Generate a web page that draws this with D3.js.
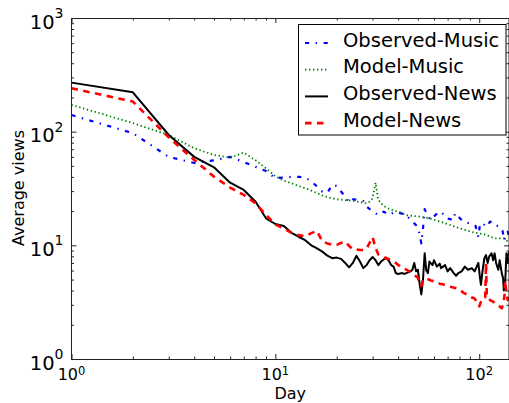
<!DOCTYPE html>
<html>
<head>
<meta charset="utf-8">
<script src="https://cdnjs.cloudflare.com/ajax/libs/d3/7.8.5/d3.min.js"></script>
<style>
  body { margin: 0; background: #fff; }
  text { font-family: "DejaVu Sans", sans-serif; fill: #000; }
</style>
</head>
<body>
<script>
// values (day -> average views)
const musicObsDay = [1,2,3,4,5,6,7,8,9,10,11,12,13,14,15,16,17,18,19,20,21,22,23,24,26,27,28,30,32,34,36,39,41,44,46,48,50,51,52,53,54,56,58,61,63,65,69,72,75,76,79,82,87,92,96,99,101,104,109,113,119,123,126,130,133,135,138,140]
const musicObs = [140,97,60,53,56,60,54,49,45,39,39.5,40,40,39.7,36.5,33,29.7,29,34,33.3,29.7,27,23.8,25.4,25.1,24.5,22,19.8,18.5,19.8,18.5,19.8,19.2,18.5,16.7,15.6,14.5,12.5,10.4,14,20.8,18,16.7,18.5,19.4,19.8,17.3,17,16.7,19.2,17.9,16.7,15.8,15.6,14.8,11.9,15.5,15.6,14.5,16.2,15.8,14.8,14.6,13.5,11.1,12.5,13.2,12]

const musicModelDay = [1,2,3,4,5,6,7,8,9,10,11,12,13,14,15,17,18,20,22,24,26,28,29,30,31,32,34,36,38,41,44,47,51,57,64,72,80,85,95,106,119,133,138,140]
const musicModel = [172,119,93.5,71.5,62.4,59,65.4,56,47.6,40.5,37.1,35.2,33.3,31.8,30.3,27.5,26.6,25.4,25,24.7,24,23.4,24.2,26,35.6,25.1,22.2,21,20.2,19.5,18.4,18.2,17.9,17.3,16.2,15.1,14.1,13.7,12.9,12.5,11.5,11.5,10.8,11.2]

const newsObsDay = [1,2,3,4,5,6,7,8,9,10,11,12,13,14,15,16,17,18,19,20,21,22,23,24,25,26,27,28,29,30,31,32,33,34,35,36,37,38,39,40,42,43,46,47,48,49,50,51,52,53,54,55,56,57,59,60,62,64,65,68,70,72,75,77,79,82,85,88,92,95,99,101,102,104,106,108,110,112,115,117,119,121,124,126,129,131,132,134,136,138,140]
const newsObs = [270,222,93.5,60,48.6,35.6,30.7,24.2,17.3,15.4,14.8,12.9,11.9,11.1,10,9.4,8.8,8.1,7.7,7.8,7.6,7,6.4,7,8.1,7.2,6.3,6.7,7.4,7.9,7.4,6.7,7.2,7.5,7.8,7.3,6.7,6.5,5.7,5.6,5.7,5.6,5.9,6.1,7,5.9,6.1,4.6,3.7,5,8.5,6,5.7,7.2,6.7,7.4,6.5,6.9,6.3,6.7,5.9,6.3,5.7,5.4,5.7,5.9,6.5,6.1,6.3,5.9,7,5.1,4.5,6.1,7.7,8.2,7,8,8.5,7.4,8.5,7,6.1,7.4,5.7,5.1,4,4.6,8.5,7,8.8]

const newsModelDay = [1,2,3,4,5,6,7,8,9,10,11,12,13,14,15,16,17,18,19,20,21,22,23,24,25,26,27,28,29,30,31,32,33,35,37,39,41,44,46,48,50,51,52,53,55,58,61,64,68,73,77,80,84,87,91,95,98,100,102,105,107,108,109,113,117,121,126,129,131,133,134,136,138,140]
const newsModel = [241,184,89,56.4,40.2,32.2,27.8,23.4,18.5,15.2,14.1,12.9,12.3,12,12.8,13.4,10.8,10.4,10.1,10.1,10.5,10.8,9.9,9.2,9.2,9.1,9.1,9.3,10.5,11.8,9.5,8.3,8,7.7,7.4,7,6.5,6.1,5.8,5.5,5.2,4.6,4.4,5,5.1,4.9,4.8,4.6,4.5,4.3,4.2,4.1,3.8,3.7,3.5,3.4,3.1,2.9,3.2,3.5,3.5,7,3.6,3.3,3.2,3,2.9,2.8,3,3.6,4.9,3.8,3.3,3.9]

const seriesNames = ['Observed-Music', 'Model-Music', 'Observed-News', 'Model-News']
const xTickExps = [0, 1, 2]
const yTickExps = [0, 1, 2, 3]

const w = 509
const h = 403
const padLeft = 71.5, padRight = 509, padTop = 18, padBottom = 359

const svg = d3.select('body')
  .append('svg')
  .attr('width', w)
  .attr('height', h)

const xScale = d3.scaleLog().domain([1, 140]).range([padLeft, padRight])
const yScale = d3.scaleLog().domain([1, 1000]).range([padBottom, padTop])

// minor ticks (2..9 in each decade)
const minorOf = (lo, hi) => {
  const out = []
  for (let e = lo; e < hi; e++) for (let k = 2; k <= 9; k++) out.push(k * Math.pow(10, e))
  return out
}
const xMinor = minorOf(0, 3).filter(d => d <= 140)
const yMinor = minorOf(0, 3)
const xMajor = xTickExps.map(e => Math.pow(10, e))
const yMajor = yTickExps.map(e => Math.pow(10, e))

const styles = [
  { color: '#0000ff', width: 2.2, dash: '4.2,6.5,1.4,6.5' },
  { color: '#008000', width: 1.8, dash: '1.4,2.6' },
  { color: '#000000', width: 2, dash: null },
  { color: '#ff0000', width: 2.6, dash: '6.5,5.5' }
]

const series = [
  { days: musicObsDay, vals: musicObs },
  { days: musicModelDay, vals: musicModel },
  { days: newsObsDay, vals: newsObs },
  { days: newsModelDay, vals: newsModel }
]

svg.append('clipPath').attr('id', 'plot')
  .append('rect')
  .attr('x', padLeft).attr('y', padTop)
  .attr('width', padRight - padLeft).attr('height', padBottom - padTop)

const line = d3.line()
  .x(d => xScale(d[0]))
  .y(d => yScale(d[1]))

const lines = svg.append('g').attr('clip-path', 'url(#plot)')
series.forEach((s, i) => {
  lines.append('path')
    .datum(s.days.map((d, j) => [d, s.vals[j]]))
    .attr('d', line)
    .attr('fill', 'none')
    .attr('stroke', styles[i].color)
    .attr('stroke-width', styles[i].width)
    .attr('stroke-dasharray', styles[i].dash)
    .attr('stroke-linejoin', 'round')
})

// ticks pointing inwards on all four sides
const tickAxis = (axisFn, scale, values, size, tr) => {
  svg.append('g')
    .attr('transform', tr)
    .call(axisFn(scale).tickValues(values).tickSize(size).tickFormat(''))
    .call(g => g.select('.domain').remove())
    .call(g => g.selectAll('line').attr('stroke', '#222'))
}
tickAxis(d3.axisBottom, xScale, xMajor, -5, 'translate(0,' + padBottom + ')')
tickAxis(d3.axisBottom, xScale, xMinor, -2.5, 'translate(0,' + padBottom + ')')
tickAxis(d3.axisTop, xScale, xMajor, -5, 'translate(0,' + padTop + ')')
tickAxis(d3.axisTop, xScale, xMinor, -2.5, 'translate(0,' + padTop + ')')
tickAxis(d3.axisLeft, yScale, yMajor, -5, 'translate(' + padLeft + ',0)')
tickAxis(d3.axisLeft, yScale, yMinor, -2.5, 'translate(' + padLeft + ',0)')
tickAxis(d3.axisRight, yScale, yMajor, -5, 'translate(' + padRight + ',0)')
tickAxis(d3.axisRight, yScale, yMinor, -2.5, 'translate(' + padRight + ',0)')

svg.append('rect')
  .attr('x', padLeft).attr('y', padTop + 0.5)
  .attr('width', padRight - padLeft).attr('height', padBottom - padTop)
  .attr('fill', 'none')
  .attr('stroke', '#222')
  .attr('stroke-width', 1)

// tick labels 10^n
xTickExps.forEach(e => {
  const t = svg.append('text')
    .attr('x', xScale(Math.pow(10, e)))
    .attr('y', padBottom + 21)
    .attr('text-anchor', 'middle')
    .style('font-size', '16px')
  t.append('tspan').text('10')
  t.append('tspan').attr('dy', -5).style('font-size', '11.5px').text(e)
})
yTickExps.forEach(e => {
  const t = svg.append('text')
    .attr('x', 63.5)
    .attr('y', yScale(Math.pow(10, e)) + 10.5)
    .attr('text-anchor', 'end')
    .style('font-size', '19.5px')
  t.append('tspan').text('10')
  t.append('tspan').attr('dy', -10.5).style('font-size', '14px').text(e)
})

svg.append('text')
  .attr('x', (padLeft + padRight) / 2)
  .attr('y', 399)
  .attr('text-anchor', 'middle')
  .style('font-size', '16px')
  .text('Day')

svg.append('text')
  .attr('transform', 'translate(23.5,188) rotate(-90)')
  .attr('text-anchor', 'middle')
  .style('font-size', '16px')
  .text('Average views')

// legend
const legend = svg.append('g')
legend.append('rect')
  .attr('x', 298.5).attr('y', 24.5)
  .attr('width', 207.5).attr('height', 110.5)
  .attr('fill', '#fff')
  .attr('stroke', '#000')
  .attr('stroke-width', 1)

seriesNames.forEach((name, i) => {
  const base = 46.5 + i * 26.7
  legend.append('line')
    .attr('x1', 305).attr('x2', 328)
    .attr('y1', base - 3.5).attr('y2', base - 3.5)
    .attr('stroke', styles[i].color)
    .attr('stroke-width', styles[i].width)
    .attr('stroke-dasharray', styles[i].dash)
  legend.append('text')
    .attr('x', 343)
    .attr('y', base)
    .style('font-size', '19.5px')
    .text(name)
})
</script>
</body>
</html>
